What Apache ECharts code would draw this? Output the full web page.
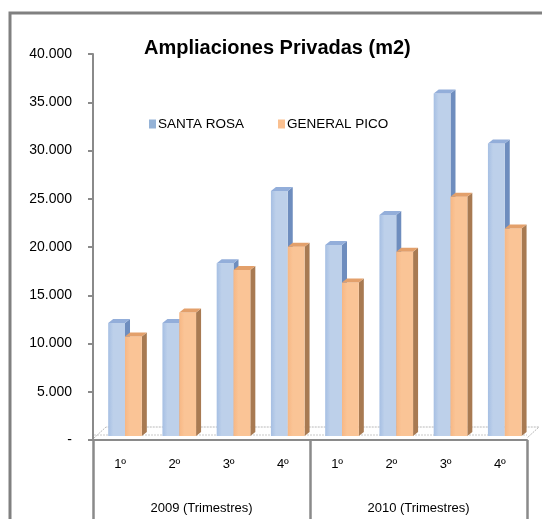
<!DOCTYPE html>
<html>
<head>
<meta charset="utf-8">
<script src="https://cdn.jsdelivr.net/npm/echarts@6/dist/echarts.min.js"></script>
<style>
html,body{margin:0;padding:0;background:#fff;}
#c{width:542px;height:519px;}
</style>
</head>
<body>
<div id="c"></div>
<script>
const categories = ['1º','2º','3º','4º','1º','2º','3º','4º'];
const years = ['2009 (Trimestres)','2010 (Trimestres)'];
const santaRosa = [11700,11700,17900,25400,19800,22900,35500,30300];
const generalPico = [10300,12800,17200,19600,15900,19100,24800,21500];
const seriesNames = ['SANTA ROSA','GENERAL PICO'];
const yMin = 0, yMax = 40000, yStep = 5000;

const FONT = '"Liberation Sans", Arial, sans-serif';
const palette = [
  {front: ['#A6BFE3', '#BDD0EA'], side: '#6E8DBE', top: '#93AEDA', legend: '#95B3D7'},
  {front: ['#F7B784', '#FAC496'], side: '#A87A52', top: '#E3A06B', legend: '#FAC090'}
];

function make3D(si) {
  const pal = palette[si];
  return function (params, api) {
    const xi = api.value(0), v = api.value(1);
    const top = api.coord([xi, v]);
    const base = api.coord([xi, 0]);
    const bw = api.size([1, 0])[0];
    const w = bw * 0.31;
    const x0 = si === 0 ? top[0] - bw * 0.22 : top[0] - bw * 0.22 + w;
    const dx = 5, dy = 4, lift = 4;
    const yt = top[1] - lift, yb = base[1] - lift;
    return {
      type: 'group',
      children: [
        {type: 'polygon', shape: {points: [[x0 + w, yt], [x0 + w + dx, yt - dy], [x0 + w + dx, yb - dy], [x0 + w, yb]]},
          style: {fill: pal.side}},
        {type: 'rect', shape: {x: x0, y: yt, width: w, height: yb - yt},
          style: {fill: new echarts.graphic.LinearGradient(0, 0, 1, 0, [{offset: 0, color: pal.front[0]}, {offset: 0.3, color: pal.front[1]}, {offset: 1, color: pal.front[1]}])}},
        {type: 'polygon', shape: {points: [[x0, yt], [x0 + dx, yt - dy], [x0 + w + dx, yt - dy], [x0 + w, yt]]},
          style: {fill: pal.top}}
      ]
    };
  };
}

const chart = echarts.init(document.getElementById('c'), null, {renderer: 'canvas'});
const gridL = 93, gridR = 15, gridT = 54, gridB = 79;

chart.setOption({
  animation: false,
  backgroundColor: '#ffffff',
  title: {
    text: 'Ampliaciones Privadas (m2)',
    left: 139, top: 33,
    textStyle: {fontFamily: FONT, fontSize: 20, fontWeight: 'bold', color: '#000'}
  },
  legend: {
    left: 144, top: 112,
    itemWidth: 7, itemHeight: 9, itemGap: 34,
    icon: 'rect',
    textStyle: {fontFamily: FONT, fontSize: 13.5, color: '#000', padding: [0, 0, 0, -3]},
    data: seriesNames
  },
  grid: {left: gridL, right: gridR, top: gridT, bottom: gridB, containLabel: false},
  xAxis: [
    {
      type: 'category', data: categories, position: 'bottom',
      axisLine: {show: true, lineStyle: {color: '#8a8a8a', width: 2}},
      axisTick: {show: false},
      axisLabel: {fontFamily: FONT, fontSize: 13, color: '#000', margin: 18, interval: 0}
    },
    {
      type: 'category', data: years, position: 'bottom', gridIndex: 0,
      axisLine: {show: false},
      axisTick: {show: true, inside: false, length: 80, interval: 0, lineStyle: {color: '#8a8a8a', width: 2.5}},
      axisLabel: {fontFamily: FONT, fontSize: 13, color: '#000', margin: 62, interval: 0}
    }
  ],
  yAxis: {
    type: 'value', min: yMin, max: yMax, interval: yStep,
    axisLine: {show: true, lineStyle: {color: '#8a8a8a', width: 2}},
    axisTick: {show: true, length: 5, lineStyle: {color: '#8a8a8a', width: 2}},
    splitLine: {show: false},
    axisLabel: {
      fontFamily: FONT, fontSize: 14, color: '#000', margin: 21,
      formatter: function (v) { return v === 0 ? '-' : v.toLocaleString('de-DE'); }
    }
  },
  graphic: [
    {type: 'rect', shape: {x: 10, y: 13, width: 545, height: 520}, style: {fill: 'none', stroke: '#808080', lineWidth: 3}, z: 100},
    {type: 'polyline', shape: {points: [[94, 438], [106, 427], [539, 427], [527, 438]]}, style: {stroke: '#b8b8b8', lineWidth: 1, lineDash: [2, 1], fill: 'none'}, z: 0},
    {type: 'line', shape: {x1: 94, y1: 435, x2: 527, y2: 435}, style: {stroke: '#c8c8c8', lineWidth: 1, lineDash: [2, 1]}, z: 0}
  ],
  series: [
    {
      name: seriesNames[0], type: 'custom', xAxisIndex: 0, yAxisIndex: 0,
      itemStyle: {color: palette[0].legend},
      renderItem: make3D(0), encode: {x: 0, y: 1},
      data: santaRosa.map((v, i) => [i, v]), z: 5
    },
    {
      name: seriesNames[1], type: 'custom', xAxisIndex: 0, yAxisIndex: 0,
      itemStyle: {color: palette[1].legend},
      renderItem: make3D(1), encode: {x: 0, y: 1},
      data: generalPico.map((v, i) => [i, v]), z: 6
    }
  ]
});
</script>
</body>
</html>
